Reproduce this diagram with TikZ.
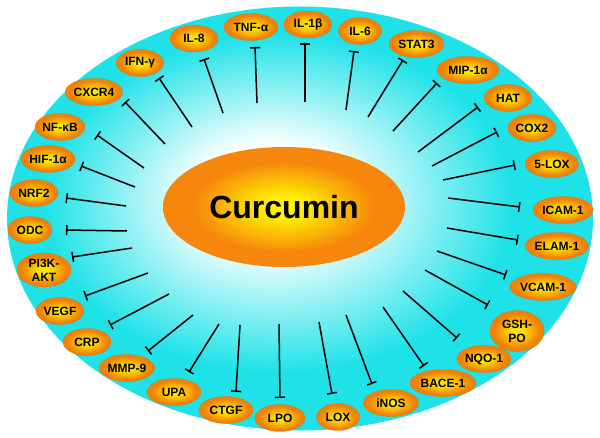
\documentclass[tikz,border=0pt]{standalone}
\usepackage{fontspec}
\setmainfont{Liberation Sans}
\usetikzlibrary{shapes.geometric,arrows.meta}
\definecolor{cyn}{RGB}{30,226,232}
\definecolor{ylw}{RGB}{255,228,0}
\definecolor{org}{RGB}{240,130,8}
\definecolor{orgdk}{RGB}{222,112,5}
\definecolor{cylw}{RGB}{255,242,0}
\definecolor{corg}{RGB}{246,134,12}
\pgfdeclareradialshading{bigbg}{\pgfpoint{-3bp}{3bp}}{color(0bp)=(white); color(6bp)=(white); color(20bp)=(cyn); color(25bp)=(cyn); color(50bp)=(cyn)}
\pgfdeclareradialshading{orb}{\pgfpoint{0bp}{0bp}}{color(0bp)=(ylw); color(5bp)=(ylw); color(21bp)=(org); color(25bp)=(org); color(50bp)=(org)}
\pgfdeclareradialshading{corb}{\pgfpoint{0bp}{0bp}}{color(0bp)=(cylw); color(4bp)=(cylw); color(19bp)=(corg); color(25bp)=(corg); color(50bp)=(corg)}
\begin{document}
\begin{tikzpicture}[x=1pt,y=-1pt,
  orb/.style={ellipse, shade, shading=orb, draw=orgdk, line width=0.3pt,
    minimum height=27pt, minimum width=#1, inner sep=0pt, align=center,
    font=\fontsize{12}{14}\selectfont\bfseries},
  orb/.default=48pt,
  centerorb/.style={ellipse, shade, shading=corb, minimum width=242pt, minimum height=120pt,
    inner sep=0pt, font=\fontsize{32}{36}\selectfont\bfseries},
  inhib/.style={line width=1.5pt, -{Bar[width=10pt,line width=1.5pt]}}]
\useasboundingbox (0,0) rectangle (600,437);
\shade[shading=bigbg] (300,218.5) ellipse [x radius=293pt, y radius=212pt];
\node[centerorb] (cur) at (284,207) {Curcumin};
% inhibition connectors
\foreach \n/\ax/\ay/\bx/\by in {
  tnf/257/103/255/47, il8/223/113/204/59, ifn/192/127/159/78, cxcr/165/144/125/102,
  nfkb/144/168/97/135, hif/135/187/81/166, nrf/126/206/66/198, ilb/305/102/305/43,
  ilsix/346/110/354/51, stat/368/117/403/60, mip/393/131/437/83, hat/418/152/478/107,
  cox/432/166/497/132, lfive/443/180/515/165, icam/448/198/520/207, odc/127/231/66/230,
  pik/132/248/72/257, vegf/148/273/85/296, crp/169/294/110/325, mmp/193/315/148/351,
  upa/219/324/189/372, ctgf/240/325/236/392, lpo/279/324/280/398, lox/319/322/332/394,
  inos/346/315/372/384, bace/383/307/424/366, nqo/403/291/457/338, gsh/425/270/488/305,
  vcam/437/251/506/275, elam/447/228/518/240}{
  \coordinate (\n-a) at (\ax,\ay);
  \coordinate (\n-b) at (\bx,\by);
  \draw[inhib] (\n-a) -- (\n-b);
}
% targets
\node[orb=48pt] (n-il8) at (194,38.5) {IL-8};
\node[orb=54pt] (n-tnf) at (251,27) {TNF-α};
\node[orb=48pt] (n-ilb) at (308,24.5) {IL-1β};
\node[orb=43pt] (n-ilsix) at (360,31) {IL-6};
\node[orb=55pt] (n-stat) at (416.5,44) {STAT3};
\node[orb=62pt] (n-mip) at (468,70) {MIP-1α};
\node[orb=47pt] (n-hat) at (508,98) {HAT};
\node[orb=48pt] (n-cox) at (532,128) {COX2};
\node[orb=53pt] (n-lfive) at (552,164) {5-LOX};
\node[orb=60pt] (n-icam) at (563,210) {ICAM-1};
\node[orb=60pt] (n-elam) at (557,246) {ELAM-1};
\node[orb=66pt] (n-vcam) at (543,287) {VCAM-1};
\node[orb=54pt, minimum height=41pt] (n-gsh) at (517,331) {GSH-\\PO};
\node[orb=54pt] (n-nqo) at (484,359) {NQO-1};
\node[orb=66pt] (n-bace) at (443,383) {BACE-1};
\node[orb=55pt] (n-inos) at (391,403) {iNOS};
\node[orb=43pt] (n-lox) at (338,417) {LOX};
\node[orb=50pt] (n-lpo) at (280,418) {LPO};
\node[orb=54pt] (n-ctgf) at (226,410) {CTGF};
\node[orb=54pt] (n-upa) at (174,392) {UPA};
\node[orb=55pt] (n-mmp) at (127,368) {MMP-9};
\node[orb=48pt] (n-crp) at (87,342) {CRP};
\node[orb=48pt] (n-vegf) at (60,311) {VEGF};
\node[orb=54pt, minimum height=34pt] (n-pik) at (44,270) {PI3K-\\AKT};
\node[orb=44pt] (n-odc) at (30,230) {ODC};
\node[orb=48pt] (n-nrf) at (34,193) {NRF2};
\node[orb=54pt] (n-hif) at (48,159) {HIF-1α};
\node[orb=45pt] (n-nfkb) at (60,127) {NF-κB};
\node[orb=52pt] (n-cxcr) at (94,92) {CXCR4};
\node[orb=47pt] (n-ifn) at (140,63) {IFN-γ};
\end{tikzpicture}
\end{document}
